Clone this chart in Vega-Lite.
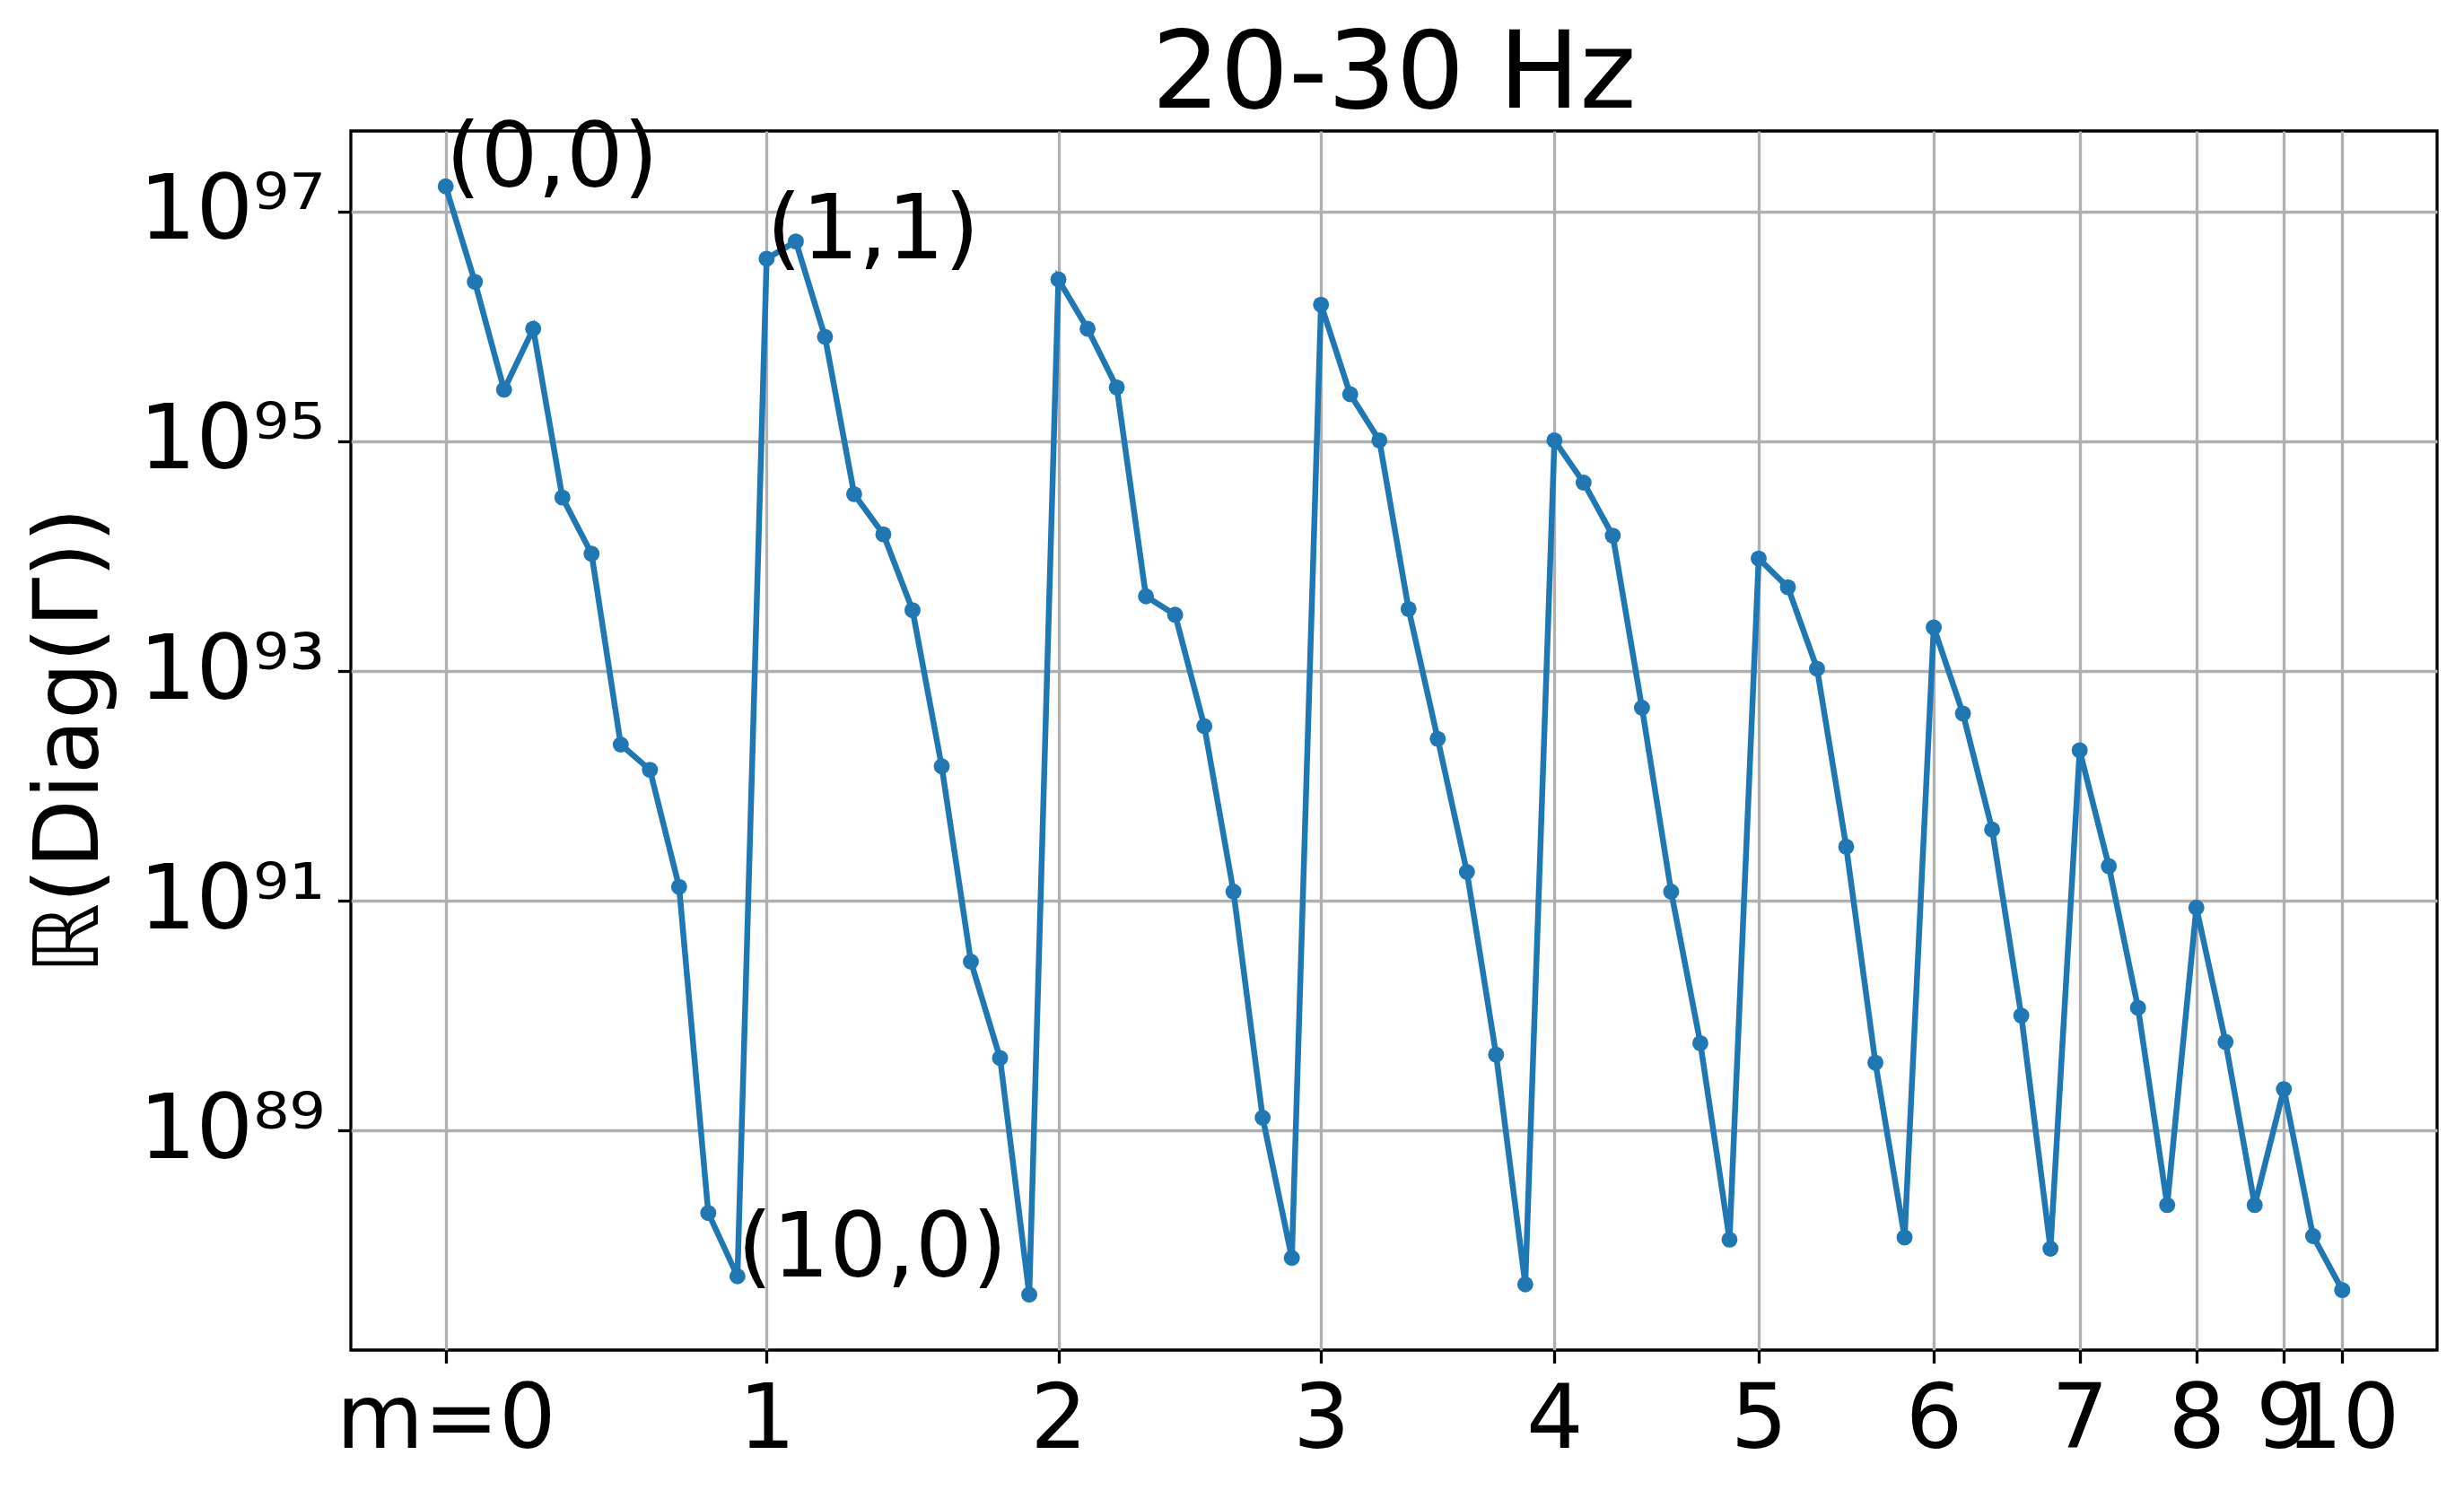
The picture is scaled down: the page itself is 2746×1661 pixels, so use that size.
{
  "$schema": "https://vega.github.io/schema/vega-lite/v6.json",
  "autosize": {"type": "none"},
  "padding": {"left": 391, "top": 146, "right": 30, "bottom": 156},
  "width": 2325,
  "height": 1359,
  "background": "white",
  "title": {
    "text": "20-30 Hz",
    "fontSize": 120,
    "font": "DejaVu Sans",
    "fontWeight": "normal",
    "color": "black",
    "anchor": "middle",
    "frame": "group",
    "offset": -17
  },
  "config": {
    "font": "DejaVu Sans",
    "view": {"stroke": "black", "strokeWidth": 3.3},
    "axis": {
      "domain": false,
      "labelFont": "DejaVu Sans",
      "labelFontSize": 100,
      "labelColor": "black",
      "labelLimit": 0,
      "tickColor": "black",
      "tickSize": 14.6,
      "tickWidth": 3.3,
      "labelPadding": 14.6,
      "grid": true,
      "gridColor": "#b0b0b0",
      "gridWidth": 3.3,
      "gridOpacity": 1,
      "labelOverlap": false,
      "labelFlush": false,
      "labelBound": false,
      "titleFont": "DejaVu Sans",
      "titleFontSize": 100,
      "titleFontWeight": "normal",
      "titleColor": "black",
      "titleLimit": 0
    }
  },
  "datasets": {
    "diag": [
      {"idx": 0, "m": 0, "value": 1.66e97},
      {"idx": 1, "m": 0, "value": 2.45e96},
      {"idx": 2, "m": 0, "value": 2.82e95},
      {"idx": 3, "m": 0, "value": 9.55e95},
      {"idx": 4, "m": 0, "value": 3.24e94},
      {"idx": 5, "m": 0, "value": 1.05e94},
      {"idx": 6, "m": 0, "value": 2.29e92},
      {"idx": 7, "m": 0, "value": 1.38e92},
      {"idx": 8, "m": 0, "value": 1.32e91},
      {"idx": 9, "m": 0, "value": 1.91e88},
      {"idx": 10, "m": 0, "value": 5.37e87},
      {"idx": 11, "m": 1, "value": 3.89e96},
      {"idx": 12, "m": 1, "value": 5.50e96},
      {"idx": 13, "m": 1, "value": 8.13e95},
      {"idx": 14, "m": 1, "value": 3.47e94},
      {"idx": 15, "m": 1, "value": 1.55e94},
      {"idx": 16, "m": 1, "value": 3.39e93},
      {"idx": 17, "m": 1, "value": 1.48e92},
      {"idx": 18, "m": 1, "value": 2.95e90},
      {"idx": 19, "m": 1, "value": 4.27e89},
      {"idx": 20, "m": 1, "value": 3.72e87},
      {"idx": 21, "m": 2, "value": 2.57e96},
      {"idx": 22, "m": 2, "value": 9.55e95},
      {"idx": 23, "m": 2, "value": 2.95e95},
      {"idx": 24, "m": 2, "value": 4.47e93},
      {"idx": 25, "m": 2, "value": 3.09e93},
      {"idx": 26, "m": 2, "value": 3.31e92},
      {"idx": 27, "m": 2, "value": 1.20e91},
      {"idx": 28, "m": 2, "value": 1.29e89},
      {"idx": 29, "m": 2, "value": 7.76e87},
      {"idx": 30, "m": 3, "value": 1.55e96},
      {"idx": 31, "m": 3, "value": 2.57e95},
      {"idx": 32, "m": 3, "value": 1.02e95},
      {"idx": 33, "m": 3, "value": 3.47e93},
      {"idx": 34, "m": 3, "value": 2.57e92},
      {"idx": 35, "m": 3, "value": 1.78e91},
      {"idx": 36, "m": 3, "value": 4.57e89},
      {"idx": 37, "m": 3, "value": 4.57e87},
      {"idx": 38, "m": 4, "value": 1.02e95},
      {"idx": 39, "m": 4, "value": 4.37e94},
      {"idx": 40, "m": 4, "value": 1.51e94},
      {"idx": 41, "m": 4, "value": 4.79e92},
      {"idx": 42, "m": 4, "value": 1.20e91},
      {"idx": 43, "m": 4, "value": 5.75e89},
      {"idx": 44, "m": 4, "value": 1.12e88},
      {"idx": 45, "m": 5, "value": 9.55e93},
      {"idx": 46, "m": 5, "value": 5.37e93},
      {"idx": 47, "m": 5, "value": 1.05e93},
      {"idx": 48, "m": 5, "value": 2.95e91},
      {"idx": 49, "m": 5, "value": 3.89e89},
      {"idx": 50, "m": 5, "value": 1.17e88},
      {"idx": 51, "m": 6, "value": 2.40e93},
      {"idx": 52, "m": 6, "value": 4.27e92},
      {"idx": 53, "m": 6, "value": 4.17e91},
      {"idx": 54, "m": 6, "value": 1.00e90},
      {"idx": 55, "m": 6, "value": 9.33e87},
      {"idx": 56, "m": 7, "value": 2.04e92},
      {"idx": 57, "m": 7, "value": 2.00e91},
      {"idx": 58, "m": 7, "value": 1.17e90},
      {"idx": 59, "m": 7, "value": 2.24e88},
      {"idx": 60, "m": 8, "value": 8.71e90},
      {"idx": 61, "m": 8, "value": 5.89e89},
      {"idx": 62, "m": 8, "value": 2.24e88},
      {"idx": 63, "m": 9, "value": 2.29e89},
      {"idx": 64, "m": 9, "value": 1.20e88},
      {"idx": 65, "m": 10, "value": 4.07e87}
    ],
    "notes": [
      {"idx": 0, "value": 1.66e97, "label": "(0,0)"},
      {"idx": 11, "value": 3.89e96, "label": "(1,1)"},
      {"idx": 10, "value": 5.37e87, "label": "(10,0)"}
    ]
  },
  "layer": [
    {
      "data": {"name": "diag"},
      "mark": {
        "type": "line",
        "color": "#1f77b4",
        "strokeWidth": 6.5,
        "point": {"filled": true, "size": 320, "color": "#1f77b4", "opacity": 1}
      },
      "encoding": {
        "x": {
          "field": "idx",
          "type": "quantitative",
          "scale": {"domain": [-3.25, 68.25], "nice": false, "zero": false},
          "axis": {
            "title": null,
            "values": [0, 11, 21, 30, 38, 45, 51, 56, 60, 63, 65],
            "labelExpr": "datum.value == 0 ? 'm=0' : '' + indexof([0, 11, 21, 30, 38, 45, 51, 56, 60, 63, 65], datum.value)",
            "labelAlign": "center",
            "labelBaseline": "top"
          }
        },
        "y": {
          "field": "value",
          "type": "quantitative",
          "scale": {"type": "log", "domain": [1.2232e87, 5.0408e97], "nice": false, "zero": false},
          "axis": {
            "title": "ℝ(Diag(Γ))",
            "titlePadding": 62,
            "values": [1e89, 1e91, 1e93, 1e95, 1e97],
            "labelExpr": "['10⁸⁹', '10⁹¹', '10⁹³', '10⁹⁵', '10⁹⁷'][(round(log(datum.value) / LN10) - 89) / 2]",
            "labelAlign": "right",
            "labelBaseline": "middle"
          }
        }
      }
    },
    {
      "data": {"name": "notes"},
      "mark": {
        "type": "text",
        "align": "left",
        "baseline": "alphabetic",
        "fontSize": 100,
        "font": "DejaVu Sans",
        "color": "black"
      },
      "encoding": {
        "x": {"field": "idx", "type": "quantitative"},
        "y": {"field": "value", "type": "quantitative"},
        "text": {"field": "label"}
      }
    }
  ]
}
